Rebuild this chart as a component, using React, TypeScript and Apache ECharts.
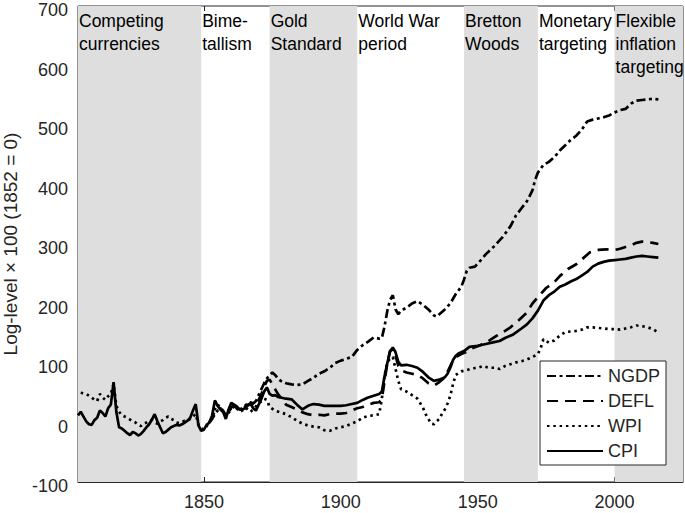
import React, { useEffect, useRef } from "react";
import * as echarts from "echarts";

const FONT = "'Liberation Sans', Arial, Helvetica, sans-serif";
const INK = "#262626";

const xMin = 1804;
const xMax = 2025;
const xTicks = [1850, 1900, 1950, 2000];
const yMin = -100;
const yMax = 700;
const yStep = 100;

const regionStarts = [1804, 1849, 1874, 1906, 1945, 1972, 2000];
const regionEnds = [1849, 1874, 1906, 1945, 1972, 2000, 2025];
const regionLabels = [
  "Competing\ncurrencies",
  "Bime-\ntallism",
  "Gold\nStandard",
  "World War\nperiod",
  "Bretton\nWoods",
  "Monetary\ntargeting",
  "Flexible\ninflation\ntargeting",
];
const regionShaded = [true, false, true, false, true, false, true];

const seriesNames = ["NGDP", "DEFL", "WPI", "CPI"];

const ngdpData: [number, number][] = [
  [1852, 0], [1853, 6], [1854, 14], [1855, 20], [1856, 22], [1857, 18], [1858, 12], [1859, 18],
  [1860, 24], [1861, 27], [1862, 25], [1863, 22], [1864, 24], [1865, 28], [1866, 32], [1867, 34],
  [1868, 32], [1869, 36], [1870, 46], [1871, 56], [1872, 66], [1873, 74], [1874, 80], [1875, 84],
  [1876, 80], [1877, 74], [1878, 70], [1880, 66], [1882, 64], [1884, 63], [1886, 64], [1888, 70],
  [1890, 75], [1892, 82], [1894, 86], [1896, 92], [1898, 100], [1900, 104], [1902, 107], [1904, 110],
  [1906, 122], [1908, 130], [1910, 136], [1912, 143], [1914, 141], [1915, 142], [1916, 162], [1917, 188],
  [1918, 206], [1919, 214], [1920, 190], [1921, 182], [1922, 188], [1924, 193], [1926, 200], [1928, 204],
  [1930, 198], [1932, 190], [1934, 180], [1935, 178], [1936, 182], [1938, 190], [1940, 200], [1942, 216],
  [1944, 228], [1945, 240], [1946, 255], [1947, 260], [1949, 262], [1951, 272], [1953, 283], [1956, 296],
  [1959, 311], [1962, 330], [1964, 348], [1966, 360], [1968, 372], [1970, 390], [1971, 408], [1972, 420],
  [1974, 433], [1976, 438], [1978, 446], [1980, 457], [1982, 466], [1984, 475], [1986, 482], [1988, 492],
  [1990, 506], [1992, 509], [1994, 511], [1996, 513], [1998, 516], [2000, 521], [2002, 525], [2004, 527],
  [2006, 536], [2008, 541], [2010, 542], [2012, 543], [2014, 544], [2016, 543],
];

const deflData: [number, number][] = [
  [1852, 0], [1853, 8], [1854, 20], [1855, 22], [1856, 24], [1857, 20], [1858, 12], [1859, 18],
  [1860, 26], [1861, 28], [1862, 24], [1863, 20], [1864, 22], [1865, 26], [1866, 30], [1867, 32],
  [1868, 28], [1869, 30], [1870, 38], [1871, 48], [1872, 60], [1873, 70], [1874, 72], [1875, 64],
  [1876, 56], [1877, 48], [1878, 42], [1880, 30], [1882, 26], [1884, 22], [1886, 17], [1888, 14],
  [1890, 12], [1892, 13], [1894, 12], [1896, 14], [1898, 15], [1900, 15], [1902, 16], [1904, 20],
  [1906, 24], [1908, 26], [1910, 30], [1912, 33], [1914, 34], [1915, 40], [1916, 70], [1917, 100],
  [1918, 120], [1919, 123], [1920, 112], [1921, 95], [1922, 88], [1924, 84], [1926, 82], [1928, 80],
  [1930, 74], [1932, 66], [1934, 62], [1936, 68], [1938, 76], [1939, 85], [1940, 95], [1941, 104],
  [1942, 110], [1944, 115], [1946, 119], [1948, 125], [1950, 128], [1953, 134], [1955, 140], [1957, 146],
  [1960, 154], [1962, 160], [1965, 172], [1968, 185], [1970, 200], [1973, 216], [1975, 226], [1978, 236],
  [1980, 246], [1983, 258], [1986, 266], [1988, 274], [1991, 286], [1994, 290], [1997, 291], [2000, 290],
  [2002, 292], [2004, 295], [2006, 298], [2008, 302], [2010, 304], [2012, 303], [2014, 302], [2016, 300],
];

const wpiData: [number, number][] = [
  [1805, 50], [1806, 49], [1807, 48], [1808, 45], [1809, 42], [1810, 38], [1811, 36], [1812, 48],
  [1813, 42], [1814, 38], [1815, 44], [1816, 48], [1817, 65], [1818, 28], [1819, 18], [1820, 12],
  [1821, 10], [1822, 8], [1823, 5], [1824, 2], [1825, 0], [1826, -4], [1827, -6], [1828, -2],
  [1829, 0], [1830, 3], [1831, 4], [1832, 0], [1833, -2], [1834, 2], [1835, 4], [1836, 8],
  [1837, 10], [1838, 6], [1839, 4], [1840, 0], [1841, -1], [1842, 1], [1843, 3], [1844, 3],
  [1845, 6], [1846, 10], [1847, 14], [1848, -4], [1849, -10], [1850, -12], [1851, -6], [1852, 0],
  [1853, 10], [1854, 22], [1855, 30], [1856, 26], [1857, 16], [1858, 10], [1859, 16], [1860, 22],
  [1861, 28], [1862, 24], [1863, 18], [1864, 20], [1865, 25], [1866, 22], [1867, 18], [1868, 22],
  [1869, 27], [1870, 32], [1871, 36], [1872, 40], [1873, 38], [1874, 26], [1876, 20], [1878, 17],
  [1880, 14], [1882, 9], [1884, 3], [1886, -2], [1888, -5], [1890, -7], [1892, -8], [1894, -13],
  [1896, -14], [1898, -10], [1900, -8], [1902, -6], [1904, -2], [1906, 2], [1908, 8], [1910, 11],
  [1912, 12], [1914, 14], [1915, 40], [1916, 80], [1917, 100], [1918, 108], [1919, 110], [1920, 90],
  [1921, 70], [1922, 56], [1924, 52], [1926, 46], [1928, 40], [1930, 25], [1931, 14], [1932, 6],
  [1933, -2], [1934, -3], [1935, 2], [1936, 6], [1937, 15], [1938, 22], [1939, 32], [1940, 45],
  [1941, 65], [1942, 80], [1944, 86], [1946, 88], [1948, 91], [1950, 92], [1952, 95], [1954, 92],
  [1956, 92], [1958, 90], [1960, 95], [1962, 98], [1964, 101], [1966, 103], [1968, 106], [1970, 110],
  [1972, 115], [1973, 125], [1974, 140], [1976, 134], [1978, 138], [1980, 146], [1982, 152], [1984, 153],
  [1986, 154], [1988, 156], [1990, 160], [1992, 160], [1994, 159], [1996, 158], [1998, 157], [2000, 157],
  [2002, 156], [2004, 158], [2006, 160], [2008, 163], [2010, 162], [2012, 160], [2014, 157], [2016, 151],
];

const cpiData: [number, number][] = [
  [1804, 12], [1805, 18], [1806, 10], [1807, 2], [1808, -3], [1809, -4], [1810, 4], [1811, 8],
  [1812, 20], [1813, 16], [1814, 10], [1815, 24], [1816, 30], [1817, 68], [1818, 18], [1819, -8],
  [1820, -10], [1821, -14], [1822, -18], [1823, -21], [1824, -16], [1825, -18], [1826, -22], [1827, -19],
  [1828, -14], [1829, -8], [1830, -3], [1831, 5], [1832, 14], [1833, 2], [1834, -8], [1835, -18],
  [1836, -16], [1837, -12], [1838, -8], [1839, -6], [1840, -4], [1841, -5], [1842, -3], [1843, 0],
  [1844, 3], [1845, 8], [1846, 20], [1847, 31], [1848, -5], [1849, -14], [1850, -12], [1851, -4],
  [1852, 0], [1853, 12], [1854, 37], [1855, 28], [1856, 22], [1857, 18], [1858, 6], [1859, 22],
  [1860, 33], [1861, 30], [1862, 27], [1863, 22], [1864, 22], [1865, 24], [1866, 28], [1867, 32],
  [1868, 24], [1869, 20], [1870, 30], [1871, 40], [1872, 52], [1873, 59], [1874, 48], [1875, 45],
  [1876, 46], [1877, 43], [1878, 42], [1880, 40], [1882, 39], [1884, 30], [1886, 22], [1888, 28],
  [1890, 31], [1892, 30], [1894, 28], [1896, 28], [1898, 28], [1900, 28], [1902, 29], [1904, 31],
  [1906, 33], [1908, 38], [1910, 42], [1912, 45], [1914, 48], [1915, 52], [1916, 78], [1917, 100],
  [1918, 120], [1919, 126], [1920, 118], [1921, 102], [1922, 96], [1924, 97], [1926, 95], [1928, 92],
  [1930, 85], [1932, 76], [1934, 70], [1936, 72], [1938, 76], [1939, 82], [1940, 92], [1941, 105],
  [1942, 112], [1943, 116], [1945, 120], [1947, 127], [1950, 129], [1953, 132], [1956, 135], [1958, 137],
  [1960, 142], [1963, 148], [1966, 158], [1968, 165], [1970, 175], [1972, 188], [1974, 205], [1976, 214],
  [1978, 220], [1980, 228], [1982, 232], [1984, 237], [1986, 241], [1988, 247], [1990, 253], [1992, 262],
  [1994, 267], [1996, 270], [1998, 272], [2000, 273], [2002, 274], [2004, 275], [2006, 277], [2008, 279],
  [2010, 280], [2012, 279], [2014, 278], [2016, 277],
];

const seriesData = [ngdpData, deflData, wpiData, cpiData];
const seriesDash: any[] = [[9, 3.5, 3, 3.5], [11, 7], [2.5, 3.8], "solid"];

export default function App() {
  const ref = useRef<HTMLDivElement>(null);

  useEffect(() => {
    if (!ref.current) return;
    const chart = echarts.init(ref.current, undefined, { renderer: "svg" });

    const areas = regionStarts.map((s, i) => [
      {
        xAxis: s,
        name: regionLabels[i],
        itemStyle: { color: regionShaded[i] ? "#dedede" : "rgba(255,255,255,0)" },
      },
      { xAxis: regionEnds[i] },
    ]);

    const lineSeries = seriesNames.map((name, i) => ({
      name,
      type: "line",
      data: seriesData[i],
      showSymbol: false,
      symbol: "none",
      z: 3,
      lineStyle: { color: "#000", width: 2.7, type: seriesDash[i] },
      itemStyle: { color: "#000" },
    }));

    chart.setOption({
      animation: false,
      backgroundColor: "#fff",
      grid: {
        left: 78,
        right: 2,
        top: 6,
        bottom: 31,
        containLabel: false,
        outerBoundsMode: "none",
        show: true,
        borderColor: INK,
        borderWidth: 1,
        backgroundColor: "transparent",
      },
      legend: {
        orient: "vertical",
        left: 540,
        top: 361,
        data: seriesNames,
        itemWidth: 56,
        itemHeight: 14,
        itemGap: 7,
        padding: [6, 6, 5, 6],
        borderColor: INK,
        borderWidth: 1,
        backgroundColor: "#fff",
        itemStyle: { color: "transparent", borderColor: "transparent", borderWidth: 0, opacity: 0 },
        textStyle: { fontFamily: FONT, fontSize: 18, color: INK },
      },
      xAxis: [
        {
          type: "value",
          min: xMin,
          max: xMax,
          position: "bottom",
          splitLine: { show: false },
          axisLine: { show: true, onZero: false, lineStyle: { color: INK, width: 1 } },
          axisTick: { show: true, inside: true, length: 5, customValues: xTicks, lineStyle: { color: INK } },
          axisLabel: {
            customValues: xTicks,
            formatter: (v: number) => String(v),
            color: INK,
            fontFamily: FONT,
            fontSize: 18,
            margin: 11,
          },
        },
        {
          type: "value",
          min: xMin,
          max: xMax,
          position: "top",
          splitLine: { show: false },
          axisLine: { show: false, onZero: false },
          axisTick: { show: true, inside: true, length: 5, customValues: xTicks, lineStyle: { color: INK } },
          axisLabel: { show: false },
        },
      ],
      yAxis: {
        type: "value",
        min: yMin,
        max: yMax,
        interval: yStep,
        splitLine: { show: false },
        axisLine: { show: false },
        axisTick: { show: false },
        axisLabel: {
          color: INK,
          fontFamily: FONT,
          fontSize: 18,
          margin: 10,
          verticalAlign: "top",
          lineHeight: 8,
        },
        name: "Log-level \u00d7 100 (1852 = 0)",
        nameLocation: "middle",
        nameRotate: 90,
        nameGap: 58,
        nameTextStyle: { color: INK, fontFamily: FONT, fontSize: 19 },
      },
      series: [
        {
          type: "line",
          data: [],
          z: 1,
          silent: true,
          markArea: {
            silent: true,
            z: 1,
            label: {
              show: true,
              position: "insideTopLeft",
              distance: 1,
              offset: [0, 2],
              color: "#000",
              fontFamily: FONT,
              fontSize: 17.5,
              lineHeight: 23,
            },
            data: areas,
          },
        },
        ...lineSeries,
      ],
    });

    return () => chart.dispose();
  }, []);

  return (
    <div
      ref={ref}
      style={{ position: "fixed", left: 0, top: 0, width: 685, height: 513 }}
    />
  );
}
